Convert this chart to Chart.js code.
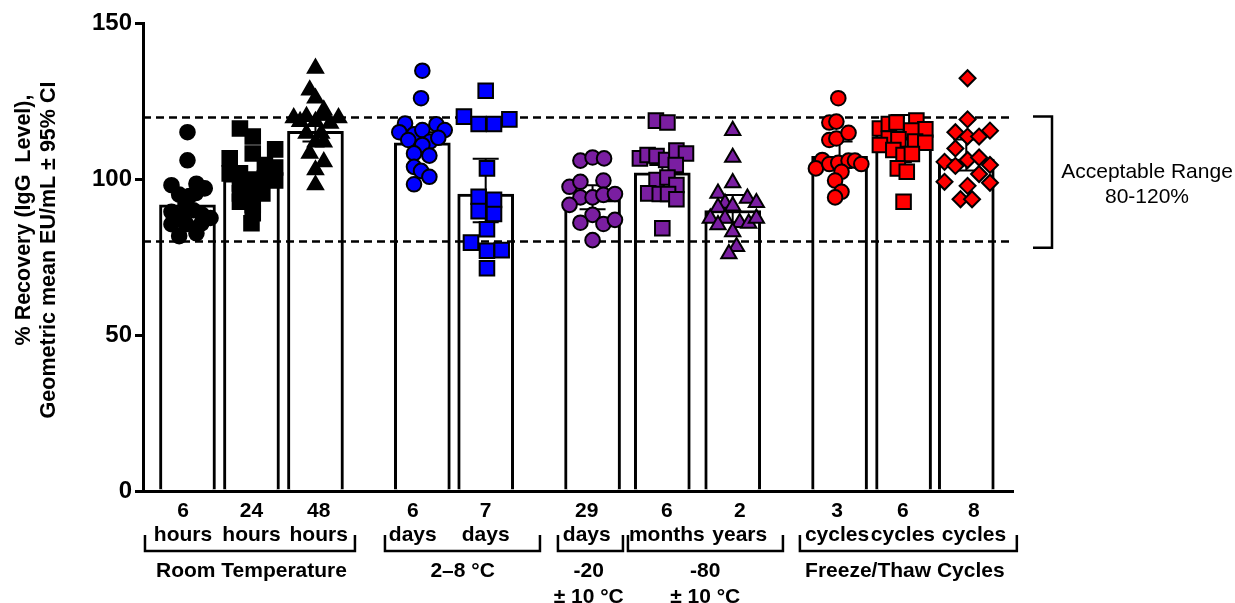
<!DOCTYPE html>
<html>
<head>
<meta charset="utf-8">
<script src="https://cdn.jsdelivr.net/npm/chart.js@4.4.1/dist/chart.umd.min.js"></script>
<style>
  html, body { margin: 0; padding: 0; background: #fff; }
  #wrap { width: 1235px; height: 603px; }
</style>
</head>
<body>
<div id="wrap"><canvas id="chart" width="1235" height="603"></canvas></div>
<script>
// Categories
const timeNumbers = ['6', '24', '48', '6', '7', '29', '6', '2', '3', '6', '8'];
const timeUnits = ['hours', 'hours', 'hours', 'days', 'days', 'days', 'months', 'years', 'cycles', 'cycles', 'cycles'];
const groupNames = [['Room Temperature'], ['2–8 °C'], ['-20', '± 10 °C'], ['-80', '± 10 °C'], ['Freeze/Thaw Cycles']];
const yTicks = [0, 50, 100, 150];

// Bar positions on the x axis (gaps between storage conditions)
const barPositions = [1, 2, 3, 4.67, 5.66, 7.33, 8.42, 9.52, 11.19, 12.19, 13.17];

// Geometric mean and 95% CI per condition
const geoMeans = [91.7, 99.7, 115.3, 111.6, 95.2, 93.4, 102.0, 89.9, 107.3, 117.6, 106.4];
const ciLow = [89.4, 97.3, 112.0, 108.0, 86.1, 90.3, 99.7, 86.1, 103.5, 112.7, 102.7];
const ciHigh = [95.0, 101.5, 119.0, 115.0, 106.5, 98.0, 104.5, 94.9, 112.0, 120.5, 112.7];

// Acceptable range
const acceptLow = 80;
const acceptHigh = 120;

// Individual samples: [x jitter, % recovery]
const rt6h = [[0,115],[0,106],[-0.25,98],[0.14,98.5],[0.27,97],[-0.13,95],[0.03,94.5],[0.13,95.5],[-0.25,89.5],[-0.08,88.5],[0.09,90],[0.23,88.5],[0.36,87.5],[-0.25,85.5],[-0.02,85.5],[0.22,85.8],[-0.13,81.7],[0.14,82.6],[-0.03,92]];
const rt24h = [[-0.18,116.2],[0.02,113.6],[0.37,109.5],[-0.34,106.6],[0.02,108.2],[0.21,104.5],[0.37,103.7],[-0.34,101.8],[-0.18,101.8],[-0.18,98.6],[0.02,99.8],[0.21,100.2],[0.37,99.5],[-0.18,95.4],[0.02,96.8],[0.17,95.4],[-0.18,92.7],[0.02,91.7],[0.02,89],[0,85.8]];
const rt48h = [[0,135.5],[-0.09,128.5],[0,125.9],[0.13,122.1],[-0.34,119.6],[-0.14,120],[0.13,120.5],[0.36,119.6],[-0.24,118.4],[0,118.4],[0.23,117.8],[-0.14,114.6],[0.09,114.6],[0,111.8],[0.13,111.8],[-0.09,108.2],[0.13,105.5],[0,102.9],[0,98.1]];
const c6d = [[0,134.7],[-0.02,125.9],[-0.27,117.8],[0.22,117.5],[-0.36,115],[-0.13,114.3],[0,115.7],[0.35,115.7],[-0.22,112.5],[0.12,112],[0.25,113.2],[0,110.9],[-0.13,108.2],[0.11,107.5],[-0.13,103.9],[-0.02,102.6],[0.11,100.7],[-0.13,98.3]];
const c7d = [[0,128.3],[-0.34,120],[-0.11,117.6],[0.13,117.6],[0.37,119.1],[0.02,103.4],[-0.11,94.3],[0.13,93.3],[-0.11,89.7],[0.13,88.8],[0.02,83.9],[-0.23,79.6],[0.02,77],[0.25,77.2],[0.02,71.4]];
const f29d = [[-0.19,105.9],[0,106.9],[0.18,106.6],[-0.36,97.5],[-0.19,99.1],[0.17,99.5],[-0.19,94.1],[0,94.1],[0.17,94.9],[0.35,95.2],[-0.36,91.7],[0,88.5],[-0.19,86],[0.17,85.6],[0.35,86.9],[0,80.4]];
const f6m = [[-0.1,118.7],[0.08,118.1],[-0.35,106.6],[-0.23,107.7],[-0.09,107.4],[0.06,106.1],[0.22,109.1],[0.37,108.2],[0.21,104.5],[-0.09,99.7],[0.08,100.5],[0.22,98.1],[-0.22,95.4],[-0.04,95.2],[0.09,95.2],[0.22,93.5],[0,84.2]];
const f2y = [[0,115.5],[0,106.9],[0,98.8],[-0.23,95.4],[0.23,93.8],[0.37,92.4],[-0.12,92.2],[-0.23,90.9],[0,91.3],[-0.35,87.4],[-0.12,87.4],[0.11,86],[0.25,85.8],[0.37,87.4],[-0.23,85.3],[0,83.1],[0.06,78.3],[-0.06,76]];
const ft3 = [[-0.02,125.9],[-0.16,118.1],[-0.05,118.4],[-0.16,112.5],[-0.05,113],[0.14,114.8],[-0.27,106.1],[-0.37,103.4],[-0.16,104.8],[-0.02,105.2],[0.14,105.9],[0.24,105.9],[0.34,104.8],[0.03,102.3],[-0.07,99.5],[0.03,95.9],[-0.07,94.1]];
const ft6 = [[-0.37,116.2],[-0.23,117.6],[-0.11,118.1],[0.2,118.7],[0.34,115.9],[0.12,115.5],[-0.23,113],[-0.08,112.7],[-0.37,110.9],[0.18,112],[0.34,111.6],[-0.16,109.3],[0,107.7],[0.13,108],[-0.09,103.4],[0.05,102.3],[0,92.7]];
const ft8 = [[0.02,132.3],[0.02,119.1],[-0.17,115],[0.37,115.5],[0.02,113.6],[0.2,113.6],[-0.17,109.8],[-0.34,105.5],[0.02,106.1],[0.2,106.9],[-0.17,104.2],[0.37,104.5],[0.2,101.6],[-0.34,99.1],[0.02,97.8],[0.37,98.8],[-0.09,93.5],[0.09,93.5]];
const samples = [rt6h, rt24h, rt48h, c6d, c7d, f29d, f6m, f2y, ft3, ft6, ft8];

// Marker look per condition
const BLACK = '#000000', BLUE = '#0000ff', PURPLE = '#7a1ea1', RED = '#ff0000';
const markerShape = ['circle', 'rect', 'triangle', 'circle', 'rect', 'circle', 'rect', 'triangle', 'circle', 'rect', 'rectRot'];
const markerColor = [BLACK, BLACK, BLACK, BLUE, BLUE, PURPLE, PURPLE, PURPLE, RED, RED, RED];
const markerRadius = { circle: 7.3, rect: 10.3, triangle: 8.8, rectRot: 8 };

// Layout (x axis units)
const xMin = 0.305, xMax = 13.9;
const tickAt = [0.93, 2.0, 3.05, 4.52, 5.66, 7.24, 8.49, 9.63, 11.15, 12.18, 13.29];
const bracketFrom = [0.336, 4.086, 6.789, 7.883, 10.57];
const bracketTo = [3.617, 6.508, 7.805, 10.305, 13.96];
const groupLabelAt = [2.0, 5.3, 7.27, 9.09, 12.21];

const FONT = '"Liberation Sans", Arial, Helvetica, sans-serif';

const overlay = {
    id: 'overlay',
    afterDatasetDraw(chart, args) {
        if (args.meta.type !== 'bar') return;
        const { ctx, chartArea: a, scales: { x, y } } = chart;
        ctx.save();
        ctx.strokeStyle = '#000';
        // Acceptable range lines
        ctx.lineWidth = 2.5;
        ctx.setLineDash([8, 5]);
        [acceptLow, acceptHigh].forEach(v => {
            const py = Math.round(y.getPixelForValue(v)) + 0.5;
            ctx.beginPath();
            ctx.moveTo(a.left, py);
            ctx.lineTo(a.right, py);
            ctx.stroke();
        });
        ctx.setLineDash([]);
        // Error bars (95% CI)
        ctx.lineWidth = 2;
        barPositions.forEach((p, i) => {
            const px = x.getPixelForValue(p);
            const top = y.getPixelForValue(ciHigh[i]);
            const bot = y.getPixelForValue(ciLow[i]);
            ctx.beginPath();
            ctx.moveTo(px, top); ctx.lineTo(px, bot);
            ctx.moveTo(px - 13, top); ctx.lineTo(px + 13, top);
            ctx.moveTo(px - 13, bot); ctx.lineTo(px + 13, bot);
            ctx.stroke();
        });
        ctx.restore();
    },
    afterDraw(chart) {
        const { ctx, chartArea: a, scales: { x, y } } = chart;
        ctx.save();
        ctx.strokeStyle = '#000';
        ctx.fillStyle = '#000';

        // Brackets under the x labels
        ctx.lineWidth = 2.5;
        const by = a.bottom + 60, bTop = a.bottom + 44;
        bracketFrom.forEach((f, i) => {
            const x0 = x.getPixelForValue(f), x1 = x.getPixelForValue(bracketTo[i]);
            ctx.beginPath();
            ctx.moveTo(x0, bTop); ctx.lineTo(x0, by); ctx.lineTo(x1, by); ctx.lineTo(x1, bTop);
            ctx.stroke();
        });

        // Storage condition labels
        ctx.font = 'bold 21px ' + FONT;
        ctx.textAlign = 'center';
        ctx.textBaseline = 'middle';
        groupNames.forEach((lines, i) => {
            const gx = x.getPixelForValue(groupLabelAt[i]);
            lines.forEach((t, k) => ctx.fillText(t, gx, a.bottom + 80 + k * 26));
        });

        // Acceptable range note
        const rx = a.right + 39;
        const ry0 = y.getPixelForValue(acceptHigh), ry1 = y.getPixelForValue(78);
        ctx.beginPath();
        ctx.moveTo(rx - 19, ry0); ctx.lineTo(rx, ry0); ctx.lineTo(rx, ry1); ctx.lineTo(rx - 19, ry1);
        ctx.stroke();
        ctx.font = '21px ' + FONT;
        ctx.fillText('Acceptable Range', rx + 95, 172);
        ctx.fillText('80-120%', rx + 95, 197);

        // Y axis title
        ctx.font = 'bold 21.5px ' + FONT;
        [['% Recovery (IgG  Level),', 24, 220], ['Geometric mean EU/mL ± 95% CI', 49, 250]].forEach(([t, tx, ty]) => {
            ctx.save();
            ctx.translate(tx, ty);
            ctx.rotate(-Math.PI / 2);
            ctx.fillText(t, 0, 0);
            ctx.restore();
        });
        ctx.restore();
    }
};

const scatterSets = samples.map((pts, i) => ({
    type: 'scatter',
    order: 0,
    data: pts.map(([dx, v]) => ({ x: barPositions[i] + dx, y: v })),
    pointStyle: markerShape[i],
    pointRadius: markerRadius[markerShape[i]],
    pointBackgroundColor: markerColor[i],
    pointBorderColor: '#000',
    pointBorderWidth: 2,
    showLine: false
}));

new Chart(document.getElementById('chart'), {
    type: 'bar',
    data: {
        datasets: [{
            type: 'bar',
            order: 1,
            data: barPositions.map((p, i) => ({ x: p, y: geoMeans[i] })),
            backgroundColor: '#ffffff',
            borderColor: '#000000',
            borderWidth: 3,
            barThickness: 56
        }, ...scatterSets]
    },
    options: {
        responsive: false,
        animation: false,
        devicePixelRatio: 1,
        layout: { padding: { top: 23, right: 222, left: 0, bottom: 0 } },
        plugins: { legend: { display: false }, tooltip: { enabled: false } },
        scales: {
            x: {
                type: 'linear',
                min: xMin,
                max: xMax,
                offset: false,
                grid: { display: false, drawTicks: false },
                border: { display: true, color: '#000', width: 3 },
                afterBuildTicks: scale => { scale.ticks = tickAt.map(v => ({ value: v })); },
                afterFit: scale => { scale.height = 112; },
                ticks: {
                    autoSkip: false,
                    maxRotation: 0,
                    padding: 8,
                    color: '#000',
                    font: { family: FONT, size: 21, weight: 'bold', lineHeight: 1.14 },
                    callback: (v, i) => [timeNumbers[i], timeUnits[i]]
                }
            },
            y: {
                type: 'linear',
                min: 0,
                max: 150,
                afterBuildTicks: scale => { scale.ticks = yTicks.map(v => ({ value: v })); },
                afterFit: scale => { scale.width = 143; },
                grid: { display: true, drawOnChartArea: false, drawTicks: true, tickLength: 8, color: '#000', lineWidth: 3 },
                border: { display: true, color: '#000', width: 3 },
                ticks: {
                    padding: 3,
                    color: '#000',
                    font: { family: FONT, size: 24, weight: 'bold' }
                }
            }
        }
    },
    plugins: [overlay]
});
</script>
</body>
</html>
